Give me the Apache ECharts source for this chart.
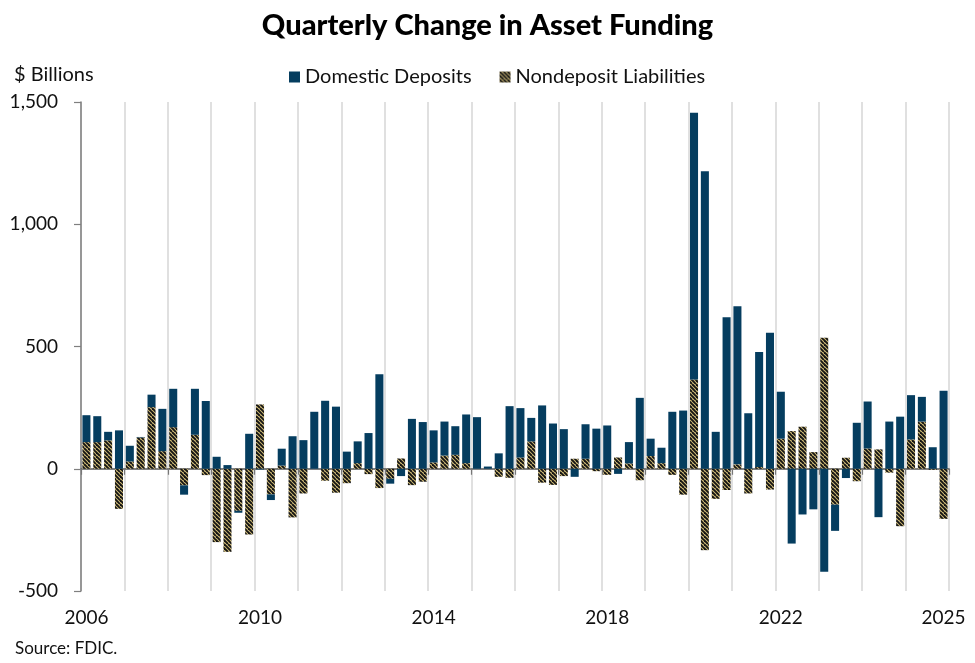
<!DOCTYPE html>
<html>
<head>
<meta charset="utf-8">
<script src="https://cdn.jsdelivr.net/npm/echarts@6/dist/echarts.min.js"></script>
<style>
html,body{margin:0;padding:0;background:#fff;}
#chart{width:975px;height:663px;}
</style>
</head>
<body>
<div id="chart"></div>
<script>
// ---- data ----
const years = [2006,2007,2008,2009,2010,2011,2012,2013,2014,2015,2016,2017,2018,2019,2020,2021,2022,2023,2024,2025];
const quarters = ['Q1','Q2','Q3','Q4'];
const tickLabels = ['2006','2010','2014','2018','2022','2025'];

const domesticDeposits = [
  110, 106, 35, 157,
  64, 2, 51, 173,
  157, -38, 188, 277,
  49, 15, -8, 143,
  -3, -23, 69, 133,
  117, 233, 278, 254,
  70, 89, 146, 387,
  -20, -30, 204, 191,
  131, 139, 117, 199,
  211, 9, 63, 256,
  202, 96, 259, 185,
  162, -33, 141, 164,
  177, -21, 87, 290,
  71, 63, 233, 238,
  1091, 1217, 151, 620,
  647, 227, 471, 556,
  192, -306, -187, -166,
  -421, -107, -38, 188,
  192, -198, 193, 213,
  181, 101, 88, 319
];
const nondepositLiabilities = [
  109, 109, 116, -164,
  30, 128, 252, 72,
  170, -68, 139, -26,
  -300, -340, -172, -269,
  263, -105, 13, -199,
  -101, 0, -49, -98,
  -59, 23, -22, -79,
  -41, 42, -67, -53,
  26, 54, 57, 23,
  0, 0, -33, -37,
  46, 112, -57, -66,
  -30, 41, 41, -10,
  -25, 46, 22, -47,
  52, 23, -25, -106,
  365, -333, -123, -87,
  18, -101, 7, -85,
  123, 154, 172, 68,
  536, -147, 45, -51,
  83, 79, -16, -235,
  120, 193, -4, -205
];

const categories = [];
years.forEach(y => quarters.forEach(q => categories.push(y + ' ' + q)));

// ---- hatch pattern ----
function makeHatch() {
  const c = document.createElement('canvas');
  const s = 8;
  c.width = s; c.height = s;
  const ctx = c.getContext('2d');
  ctx.fillStyle = '#d2bd78';
  ctx.fillRect(0, 0, s, s);
  ctx.strokeStyle = '#141414';
  ctx.lineWidth = 1.9;
  for (let x = -s; x <= 2 * s; x += 4) {
    ctx.beginPath();
    ctx.moveTo(x, 0);
    ctx.lineTo(x + s, s);
    ctx.stroke();
  }
  return c;
}
const hatch = { image: makeHatch(), repeat: 'repeat' };

const labelIdx = [0, 16, 32, 48, 64, categories.length - 1];
const FONT = 'Lato, "Noto Sans", sans-serif';

const chart = echarts.init(document.getElementById('chart'), null, { renderer: 'canvas' });
chart.setOption({
  backgroundColor: '#ffffff',
  animation: false,
  textStyle: { fontFamily: FONT },
  title: [
    { text: 'Quarterly Change in Asset Funding', left: 'center', top: 6,
      textStyle: { fontFamily: FONT, fontSize: 29, fontWeight: 900, color: '#000' } },
    { text: '$ Billions', left: 9, top: 60,
      textStyle: { fontFamily: FONT, fontSize: 20, fontWeight: 'normal', color: '#111' } },
    { text: 'Source: FDIC.', left: 10, top: 635,
      textStyle: { fontFamily: FONT, fontSize: 17, fontWeight: 'normal', color: '#111' } }
  ],
  legend: {
    data: ['Domestic Deposits', 'Nondeposit Liabilities'],
    left: 284, top: 62,
    itemWidth: 11, itemHeight: 11, itemGap: 28,
    icon: 'rect',
    textStyle: { fontFamily: FONT, fontSize: 20, color: '#111' }
  },
  grid: { left: 81, right: 26, top: 102, bottom: 72 },
  xAxis: [
    {
      type: 'category', data: categories, position: 'bottom',
      boundaryGap: true,
      axisLine: { show: false, onZero: false },
      axisTick: { show: false },
      axisLabel: {
        interval: (i) => labelIdx.indexOf(i) >= 0,
        formatter: (v, i) => tickLabels[labelIdx.indexOf(i)],
        fontFamily: FONT, fontSize: 19, color: '#111', margin: 17
      },
      splitLine: { show: true, interval: 3, lineStyle: { color: '#d9d9d9', width: 1.6 } }
    },
    {
      type: 'category', data: categories, position: 'bottom',
      boundaryGap: true,
      axisLine: { show: true, onZero: true, lineStyle: { color: '#555', width: 1.5 } },
      axisTick: { show: true, interval: 3, length: 6, lineStyle: { color: '#777', width: 1.2 } },
      axisLabel: { show: false },
      splitLine: { show: false }
    }
  ],
  yAxis: {
    type: 'value', min: -500, max: 1500, interval: 500,
    axisLine: { show: true, onZero: false, lineStyle: { color: '#7f7f7f', width: 1.5 } },
    axisTick: { show: true, length: 7, lineStyle: { color: '#7f7f7f', width: 1.2 } },
    axisLabel: {
      fontFamily: FONT, fontSize: 19, color: '#111', margin: 23,
      formatter: (v) => v.toLocaleString('en-US')
    },
    splitLine: { show: false }
  },
  series: [
    {
      name: 'Nondeposit Liabilities', type: 'bar', stack: 'funding',
      data: nondepositLiabilities, barCategoryGap: '26%',
      itemStyle: { color: hatch }
    },
    {
      name: 'Domestic Deposits', type: 'bar', stack: 'funding',
      data: domesticDeposits, barCategoryGap: '26%',
      itemStyle: { color: '#053d5f' }
    }
  ]
});
</script>
</body>
</html>
